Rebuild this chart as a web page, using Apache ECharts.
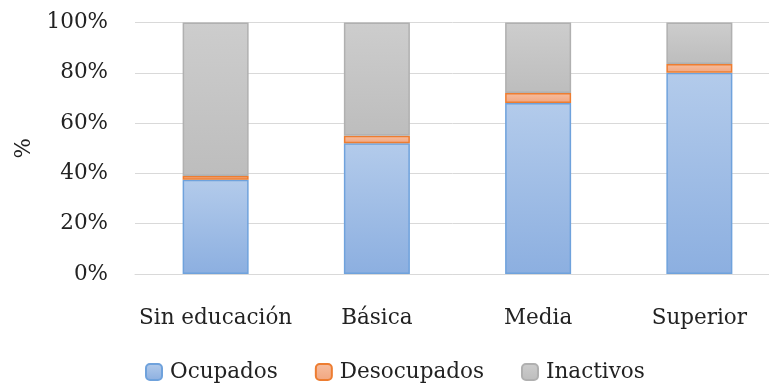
<!DOCTYPE html>
<html><head><meta charset="utf-8">
<script src="https://cdn.jsdelivr.net/npm/echarts@6/dist/echarts.min.js"></script>
<style>html,body{margin:0;padding:0;background:#fff}#c{width:769px;height:388px}</style>
</head><body><div id="c"></div>
<script>
const categories = ['Sin educación', 'Básica', 'Media', 'Superior'];
const ocupados = [37.5, 52, 68, 80];
const desocupados = [1.5, 3, 4, 3.5];
const inactivos = [61, 45, 28, 16.5];
const yTicks = [0, 20, 40, 60, 80, 100];

const FONT = 'DejaVu Serif';
const FS = 21.5;
const chart = echarts.init(document.getElementById('c'));
const grad = (a, b) => new echarts.graphic.LinearGradient(0, 0, 0, 1, [{offset: 0, color: a}, {offset: 1, color: b}]);
chart.setOption({
  animation: false,
  textStyle: {fontFamily: FONT},
  grid: {left: 135, top: 22.5, width: 645, height: 251.5, outerBoundsMode: 'none', containLabel: false},
  legend: {
    bottom: 0, left: 140, itemWidth: 16, itemHeight: 16, itemGap: 37,
    textStyle: {fontFamily: FONT, fontSize: FS, color: '#222', padding: [0, 0, 0, 3]},
    data: ['Ocupados', 'Desocupados', 'Inactivos']
  },
  xAxis: {
    type: 'category', data: categories,
    axisLine: {lineStyle: {color: '#d9d9d9'}},
    axisTick: {show: false},
    axisLabel: {interval: 0, fontFamily: FONT, fontSize: FS, color: '#222', margin: 33}
  },
  yAxis: {
    type: 'value', min: yTicks[0], max: yTicks[yTicks.length - 1], interval: 20,
    name: '%', nameLocation: 'middle', nameGap: 100, nameRotate: 90,
    nameTextStyle: {fontFamily: FONT, fontSize: FS, color: '#222'},
    axisLine: {show: false}, axisTick: {show: false},
    splitLine: {lineStyle: {color: '#d9d9d9'}},
    axisLabel: {fontFamily: FONT, fontSize: FS, color: '#222', margin: 27, formatter: v => v + '%'}
  },
  series: [
    {name: 'Ocupados', type: 'bar', stack: 's', barWidth: 66, data: ocupados,
     itemStyle: {color: grad('#b3cbeb', '#8cafe0'), borderColor: '#6fa2dc', borderWidth: 1.5}},
    {name: 'Desocupados', type: 'bar', stack: 's', data: desocupados,
     itemStyle: {color: grad('#f6bea0', '#f2a67f'), borderColor: '#ed7d31', borderWidth: 1.5}},
    {name: 'Inactivos', type: 'bar', stack: 's', data: inactivos,
     itemStyle: {color: grad('#cdcdcd', '#bdbdbd'), borderColor: '#b0b0b0', borderWidth: 1.5}}
  ]
});
</script></body></html>
